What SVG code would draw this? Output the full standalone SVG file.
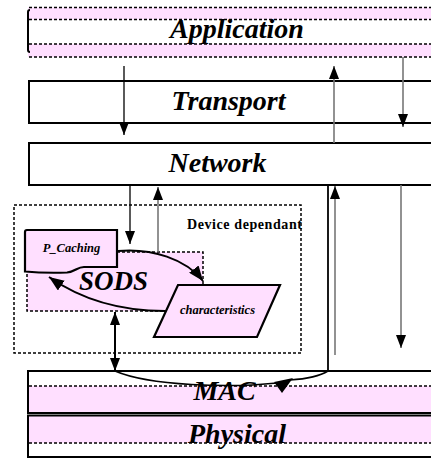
<svg xmlns="http://www.w3.org/2000/svg" width="431" height="459" viewBox="0 0 431 459">
  <style>
    .layer { font-family: "Liberation Serif", "Times New Roman", serif; font-weight: bold; font-style: italic; font-size: 28px; fill: #000; text-anchor: middle; }
    .small { font-family: "Liberation Serif", "Times New Roman", serif; font-weight: bold; font-style: italic; font-size: 12.5px; fill: #000; text-anchor: middle; }
    .label { font-family: "Liberation Serif", "Times New Roman", serif; font-weight: bold; font-size: 14px; fill: #000; }
    .box { fill: #fff; stroke: #000; stroke-width: 2; }
    .pink { fill: #ffdfff; stroke: none; }
    .dots { fill: none; stroke: #000; stroke-width: 1.5; stroke-dasharray: 3 2; }
    .solid { fill: none; stroke: #000; stroke-width: 2; }
    .shape { fill: #ffdfff; stroke: #000; stroke-width: 2.2; }
    .blk { fill: none; stroke: #000; stroke-width: 1.3; }
    .gry { fill: none; stroke: #777; stroke-width: 1.6; }
    .bold { fill: none; stroke: #000; stroke-width: 2; }
  </style>
  <defs>
    <marker id="head" viewBox="0 0 13 10" refX="13" refY="5" markerWidth="13" markerHeight="10" markerUnits="userSpaceOnUse" orient="auto-start-reverse">
      <path d="M0,0 L13,5 L0,10 z" fill="#000"/>
    </marker>
    <marker id="headBig" viewBox="0 0 15 12" refX="15" refY="6" markerWidth="15" markerHeight="12" markerUnits="userSpaceOnUse" orient="auto-start-reverse">
      <path d="M0,0 L15,6 L0,12 z" fill="#000"/>
    </marker>
  </defs>

  <rect width="431" height="459" fill="#fff"/>

  <!-- Application layer -->
  <g id="application">
    <rect class="pink" x="28" y="7.5" width="403" height="12"/>
    <rect class="pink" x="28" y="44" width="403" height="13"/>
    <line class="dots" x1="29" y1="7.5" x2="431" y2="7.5"/>
    <line class="dots" x1="29" y1="19.5" x2="431" y2="19.5"/>
    <line class="dots" x1="29" y1="44" x2="431" y2="44"/>
    <line class="dots" x1="29" y1="57" x2="431" y2="57"/>
    <path class="solid" d="M30,10 Q28,10 28,12 V50 Q28,52 30,52"/>
    <text class="layer" x="237" y="38">Application</text>
  </g>

  <!-- Transport layer -->
  <g id="transport">
    <rect class="box" x="29" y="81" width="410" height="42"/>
    <text class="layer" x="228.5" y="110">Transport</text>
  </g>

  <!-- Network layer -->
  <g id="network">
    <rect class="box" x="29" y="143" width="410" height="42"/>
    <text class="layer" x="217.5" y="172">Network</text>
  </g>

  <!-- Device dependant region -->
  <g id="device-dependant">
    <rect class="dots" x="14" y="205" width="287" height="148"/>
    <text class="label" x="187" y="229" textLength="115" lengthAdjust="spacing">Device dependant</text>
  </g>

  <!-- SODS block -->
  <g id="sods">
    <rect class="pink" x="27" y="252" width="176" height="59"/>
    <rect class="dots" x="27" y="252" width="176" height="59"/>
    <text class="layer" x="113.5" y="290" style="font-size:27px">SODS</text>
  </g>

  <!-- P_Caching document -->
  <g id="p-caching">
    <path class="shape" d="M25,232 Q25,230 27,230 H117 V267 H84 C77,267 75,272 67,272.5 C52,273 36,272.5 25,271.5 Z"/>
    <text class="small" x="71.5" y="252">P_Caching</text>
  </g>

  <!-- characteristics parallelogram -->
  <g id="characteristics">
    <polygon class="shape" points="178,285 280,285 257,337 154,337"/>
    <text class="small" x="217.5" y="314">characteristics</text>
  </g>

  <!-- MAC layer -->
  <g id="mac">
    <rect class="pink" x="28" y="386" width="403" height="27"/>
    <line class="dots" x1="29" y1="386" x2="431" y2="386"/>
    <path class="solid" d="M431,371 H28 V413 H431"/>
    <text class="layer" x="224.5" y="400">MAC</text>
  </g>

  <!-- Physical layer -->
  <g id="physical">
    <rect class="pink" x="28" y="415.5" width="403" height="27.5"/>
    <line class="dots" x1="29" y1="443" x2="431" y2="443"/>
    <path class="solid" d="M431,415.5 H28 V457 H431"/>
    <text class="layer" x="237" y="443">Physical</text>
  </g>

  <!-- Connectors -->
  <g id="connectors">
    <line class="blk" x1="124" y1="66" x2="124" y2="135" marker-end="url(#head)"/>
    <line class="gry" x1="334" y1="143" x2="334" y2="66" marker-end="url(#head)"/>
    <line class="gry" x1="403" y1="57" x2="403" y2="127" marker-end="url(#head)"/>
    <line class="blk" x1="130" y1="185" x2="130" y2="244" marker-end="url(#head)"/>
    <line class="gry" x1="158" y1="252" x2="158" y2="187" marker-end="url(#head)"/>
    <line class="solid" x1="328" y1="185" x2="328" y2="371" style="stroke-width:1.8"/>
    <line class="gry" x1="335" y1="355" x2="335" y2="186" marker-end="url(#head)"/>
    <line class="gry" x1="401" y1="185" x2="401" y2="348" marker-end="url(#head)"/>
    <line class="bold" x1="115" y1="312" x2="115" y2="371" marker-start="url(#head)" marker-end="url(#head)"/>
    <path class="bold" d="M118,251 C152,248 186,259 203,281" marker-end="url(#headBig)"/>
    <path class="bold" d="M165,311 C120,311 82,300 49,277" marker-end="url(#headBig)"/>
    <path class="blk" d="M115,371 C150,386 230,388 277,383" style="stroke-width:1.6"/>
    <path class="blk" d="M328,371 C320,376 305,379 290,380" style="stroke-width:1.6"/>
    <polygon points="274,382 293,378 282,393" fill="#000"/>
  </g>
</svg>
